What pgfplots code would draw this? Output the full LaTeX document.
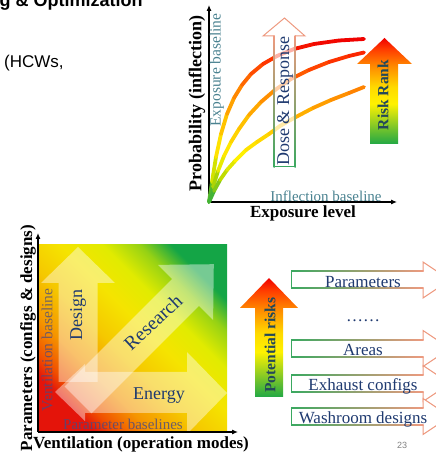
\documentclass[border=0pt]{standalone}
\usepackage{pgfplots}
\pgfplotsset{compat=1.18}
\usepackage{fontspec}
\setmainfont{Liberation Serif}
\newfontfamily\slidesans{Liberation Sans}
\usetikzlibrary{arrows.meta}

% palette
\definecolor{navy}{HTML}{1F3A70}
\definecolor{tealtxt}{HTML}{4A8290}
\definecolor{risktxt}{HTML}{23485A}
\definecolor{basetxt}{HTML}{4A4A80}
\definecolor{rgreen}{HTML}{22A845}
\definecolor{cyg}{HTML}{B8D800}
\definecolor{ryellow}{HTML}{FFF200}
\definecolor{cgold}{HTML}{FFC000}
\definecolor{rorange}{HTML}{FF8800}
\definecolor{credor}{HTML}{FF3A00}
\definecolor{rred}{HTML}{F00000}
\definecolor{salmon}{HTML}{EE9A80}
\definecolor{outgreen}{HTML}{3AA860}
\definecolor{vred}{RGB}{228,20,10}
\definecolor{vredor}{RGB}{240,80,0}
\definecolor{vorange}{RGB}{245,150,0}
\definecolor{vgold}{RGB}{245,200,0}
\definecolor{vyellow}{RGB}{245,228,0}
\definecolor{vlime}{RGB}{225,235,0}
\definecolor{vyg}{RGB}{150,210,20}
\definecolor{vgreen}{RGB}{20,165,70}

% rising risk: green at the bottom, red at the top
\pgfdeclareverticalshading{riskfill}{100bp}{%
  color(0bp)=(rgreen); color(25bp)=(rgreen); color(31bp)=(rgreen!70!ryellow);
  color(44bp)=(ryellow); color(52bp)=(ryellow!50!cgold); color(62bp)=(rorange);
  color(70bp)=(credor); color(75bp)=(rred); color(100bp)=(rred)}

% ventilation plane: red corner to green corner
\pgfdeclarehorizontalshading{ventfill}{100bp}{%
  color(0bp)=(vred); color(25bp)=(vred); color(29bp)=(vredor);
  color(36bp)=(vorange); color(45bp)=(vgold); color(54bp)=(vyellow);
  color(62bp)=(vlime); color(69bp)=(vyg); color(75bp)=(vgreen); color(100bp)=(vgreen)}

% one outlined category arrow of the list on the right
\newcommand\rowarrow[2]{%
  \fill[white] (291,#1-8.5) -- (423,#1-8.5) -- (423,#1-18) -- (450,#1)
     -- (423,#1+18) -- (423,#1+8.5) -- (291,#1+8.5) -- cycle;
  \draw[salmon, line width=1pt] (423,#1-8.5) -- (423,#1-18) -- (450,#1)
     -- (423,#1+18) -- (423,#1+8.5);
  \shade[left color=outgreen, middle color=ryellow!85!orange, right color=salmon]
     (291,#1-9) rectangle (423.5,#1-8);
  \shade[left color=outgreen, middle color=ryellow!85!orange, right color=salmon]
     (291,#1+8) rectangle (423.5,#1+9);
  \draw[outgreen, line width=1pt] (291,#1-9) -- (291,#1+9);
  \node[anchor=base, inner sep=0, text=navy, font=\fontsize{17}{20}\selectfont]
     at (363,#1+7.5) {#2};
}

\begin{document}
\begin{tikzpicture}[x=1pt,y=1pt]
\path[use as bounding box, clip] (0,0) rectangle (436,455);

% ---------- slide text and the ventilation plane ----------
\begin{scope}[shift={(0,455)}, y=-1pt]
  \node[anchor=base west, inner sep=0, font=\slidesans\bfseries\fontsize{18}{20}\selectfont]
    at (-0.5,7) {g \& Optimization};
  \node[anchor=base west, inner sep=0, font=\slidesans\fontsize{17}{20}\selectfont]
    at (4,68) {(HCWs,};

  % gradient plane
  \shade[shading=ventfill, shading angle=45] (39,245) rectangle (227,432);

  % translucent direction arrows
  \fill[white, opacity=0.42] (58.5,382) -- (58.5,283) -- (41,283) -- (78,247)
      -- (115,283) -- (97.5,283) -- (97.5,382) -- cycle;
  \fill[white, opacity=0.42] (55,392) -- (85,364) -- (85,372) -- (187,372) -- (187,352)
      -- (227,393) -- (187,434) -- (187,413) -- (85,413) -- (85,421) -- cycle;
  \fill[white, opacity=0.42] (64.6,386.6) -- (172.1,279.1) -- (157.9,264.9) -- (213.8,264.2)
      -- (213.1,320.1) -- (198.9,305.9) -- (91.4,413.4) -- cycle;

  \node[rotate=90, text=navy, font=\fontsize{18}{20}\selectfont] at (78,315) {Design};
  \node[rotate=43, text=navy, font=\fontsize{19.5}{20}\selectfont] at (153,322) {Research};
  \node[anchor=base, text=navy, font=\fontsize{18}{20}\selectfont, inner sep=0] at (159,400) {Energy};
  \node[rotate=90, text=basetxt, opacity=0.75, font=\fontsize{15.5}{18}\selectfont] at (47,350) {Ventilation baseline};
  \node[text=basetxt, opacity=0.8, font=\fontsize{15}{18}\selectfont] at (123,424) {Parameter baselines};
\end{scope}

% ---------- dose-response curves ----------
\begin{axis}[
  at={(209,253)}, anchor=south west,
  scale only axis, width=188pt, height=197pt,
  xmin=0, xmax=188, ymin=0, ymax=197,
  axis lines=left, ticks=none,
  axis line style={line width=1.1pt, -{Latex[length=6pt,width=5pt]}},
  clip=false,
  xlabel={Exposure level}, ylabel={Probability (inflection)},
  xlabel style={at={(axis description cs:0.5,-0.056)}, anchor=center,
    font=\bfseries\fontsize{17}{20}\selectfont},
  ylabel style={at={(axis description cs:-0.064,0.5)}, anchor=center,
    font=\bfseries\fontsize{18}{20}\selectfont},
  colormap={riskcurve}{color(0pt)=(rgreen) color(25pt)=(cyg) color(45pt)=(ryellow)
    color(80pt)=(cgold) color(110pt)=(rorange) color(140pt)=(credor) color(163pt)=(rred)},
  point meta min=0, point meta max=163,
]
\addplot[mesh, point meta=y, line width=3.8pt, line cap=round] coordinates {
  (0,0) (3,20) (7,45) (12,68) (18,88) (25,104) (33,117) (42,128)
  (54,138) (68,146) (85,153) (105,158) (130,161.5) (155,163)};
\addplot[mesh, point meta=y, line width=3.8pt, line cap=round] coordinates {
  (0,0) (4,15) (9,31) (15,46) (22,60) (30,73) (40,87) (52,100)
  (66,112) (82,123) (100,132) (120,140) (140,146) (155,149.5)};
\addplot[mesh, point meta=y, line width=3.8pt, line cap=round] coordinates {
  (0,0) (5,11) (11,22) (18,32) (26,41) (37,52) (48,60) (60,68)
  (71,76) (85,84) (104,94) (122,102) (140,109) (155,115)};
\end{axis}

% ---------- ventilation axes ----------
\begin{axis}[
  at={(38,23)}, anchor=south west,
  scale only axis, width=200pt, height=199pt,
  xmin=0, xmax=200, ymin=0, ymax=199,
  axis lines=left, ticks=none,
  axis line style={line width=1.1pt, -{Latex[length=6pt,width=5pt]}},
  xlabel={Ventilation (operation modes)},
  ylabel={Parameters (configs \& designs)},
  xlabel style={at={(axis description cs:0.515,-0.062)}, anchor=center,
    font=\bfseries\fontsize{17}{20}\selectfont},
  ylabel style={at={(axis description cs:-0.05,0.472)}, anchor=center,
    font=\bfseries\fontsize{17}{20}\selectfont},
]
\end{axis}

% ---------- arrows and labels over the curves ----------
\begin{scope}[shift={(0,455)}, y=-1pt]
  \node[rotate=90, text=tealtxt, font=\fontsize{15.5}{18}\selectfont] at (217,70) {Exposure baseline};
  \node[text=tealtxt, font=\fontsize{15}{18}\selectfont] at (326,196) {Inflection baseline};

  % hollow dose-response arrow
  \fill[white, opacity=0.65] (274,167) -- (274,36) -- (263,36) -- (284.5,18) -- (305,36)
      -- (295,36) -- (295,167) -- cycle;
  \draw[salmon, line width=1pt] (274,36) -- (263,36) -- (284.5,18) -- (305,36) -- (295,36);
  \shade[bottom color=outgreen, middle color=ryellow!85!orange, top color=salmon]
      (273.5,167.5) rectangle (274.5,35.5);
  \shade[bottom color=outgreen, middle color=ryellow!85!orange, top color=salmon]
      (294.5,167.5) rectangle (295.5,35.5);
  \draw[outgreen, line width=1pt] (274,167) -- (295,167);
  \node[rotate=90, text=navy, font=\fontsize{18}{20}\selectfont] at (285,101) {Dose \& Response};

  % risk rank arrow
  \shade[shading=riskfill] (370,144) -- (370,64) -- (357,64) -- (384.5,38) -- (412,64)
      -- (398,64) -- (398,144) -- cycle;
  \node[rotate=90, text=risktxt, font=\bfseries\fontsize{15.5}{18}\selectfont] at (383,95) {Risk Rank};

  % potential risks arrow
  \shade[shading=riskfill] (255,397) -- (255,308) -- (240,308) -- (269,278) -- (298,308)
      -- (283,308) -- (283,397) -- cycle;
  \node[rotate=90, text=risktxt, font=\bfseries\fontsize{15.5}{18}\selectfont] at (270,345) {Potential risks};

  % categories
  \rowarrow{280}{Parameters}
  \node[anchor=base, inner sep=0, text=navy, font=\fontsize{17}{20}\selectfont] at (363,322) {……};
  \rowarrow{348.5}{Areas}
  \rowarrow{383.5}{Exhaust configs}
  \rowarrow{416.5}{Washroom designs}

  \node[text=gray, font=\slidesans\fontsize{9}{10}\selectfont] at (402,445) {23};
\end{scope}
\end{tikzpicture}
\end{document}
